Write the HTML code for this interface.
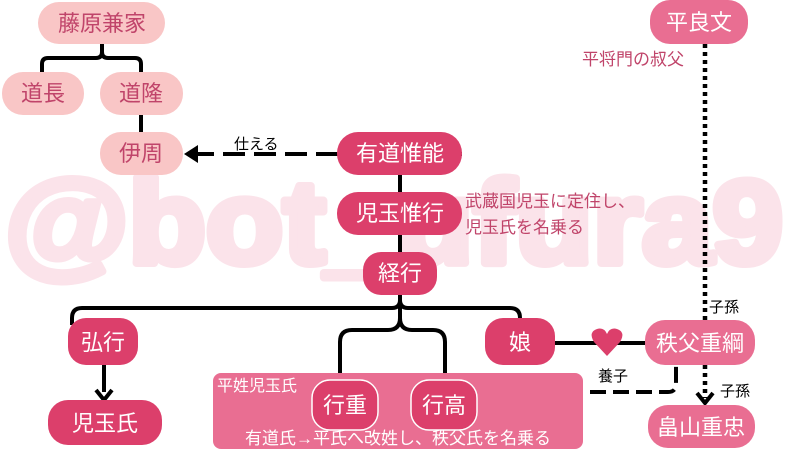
<!DOCTYPE html>
<html><head><meta charset="utf-8"><style>
html,body{margin:0;padding:0;background:#fff;width:800px;height:450px;overflow:hidden}
text{font-family:"Liberation Sans","Noto Sans CJK JP",sans-serif}
</style></head><body>
<svg width="800" height="450" viewBox="0 0 800 450" xmlns="http://www.w3.org/2000/svg">
<text x="5" y="263" font-size="118" font-weight="bold" fill="#fbe3ea" stroke="#fbe3ea" stroke-width="8" stroke-linejoin="round" textLength="778" lengthAdjust="spacingAndGlyphs" font-family="Liberation Sans, sans-serif">@bot_ufura9</text>
<g fill="none" stroke="#000" stroke-width="4">
<path d="M102 44 V52 Q102 58 96 58 H48 Q42 58 42 64 V72"/>
<path d="M102 52 Q102 58 108 58 H135 Q141 58 141 64 V72"/>
<path d="M141 115 V132"/>
<path d="M400 175 V192 M400 235 V252"/>
<path d="M400 295 V300 Q400 308 392 308 H82 Q72 308 72 318 V325"/>
<path d="M400 300 Q400 308 408 308 H510 Q520 308 520 318 V322"/>
<path d="M400 300 V318 Q400 330 388 330 H352 Q340 330 340 342 V382"/>
<path d="M400 318 Q400 330 412 330 H433 Q445 330 445 342 V382"/>
<path d="M104 365 V392"/>
<path d="M555 343 H645"/>
<path d="M462 154 H198" stroke-dasharray="22 9"/>
<path d="M590 392 H668 Q676 392 676 384 V366" stroke-dasharray="16 7"/>
<path d="M705 44 V320 M705 365 V398" stroke-dasharray="4 4" stroke-width="4.5"/>
</g>
<path d="M96 390 L104 400 L112 390" fill="none" stroke="#000" stroke-width="4"/>
<path d="M697 393 L705 403 L713 393" fill="none" stroke="#000" stroke-width="4"/>
<path d="M184 154 L198 145 V163 Z" fill="#000"/>
<path d="M607 356 L594 342 Q588 332 597 329 Q604 327 607 334 Q610 327 617 329 Q626 332 620 342 Z" fill="#dc3f6b"/>
<rect x="213" y="373" width="370" height="76" rx="8" fill="#e96e92"/>
<g fill="#f9c6c6"><rect x="38" y="2" width="127" height="42" rx="21"/><rect x="2" y="72" width="82" height="43" rx="21"/><rect x="100" y="72" width="83" height="43" rx="21"/><rect x="100" y="132" width="83" height="43" rx="21"/></g>
<g fill="#dc3f6b"><rect x="337" y="132" width="125" height="43" rx="21"/><rect x="337" y="192" width="125" height="43" rx="21"/><rect x="363" y="252" width="74" height="43" rx="18"/><rect x="68" y="318" width="70" height="47" rx="18"/><rect x="485" y="318" width="70" height="47" rx="18"/><rect x="48" y="400" width="114" height="45" rx="20"/></g>
<g fill="#dc3f6b" stroke="#fff" stroke-width="1.5"><rect x="312" y="380" width="66" height="50" rx="18"/><rect x="411" y="380" width="66" height="50" rx="18"/></g>
<g fill="#e96e92"><rect x="650" y="0" width="98" height="44" rx="20"/><rect x="645" y="320" width="110" height="45" rx="20"/><rect x="648" y="405" width="107" height="43" rx="20"/></g>
<g font-size="22" text-anchor="middle" fill="#c0446a"><text x="102" y="31">藤原兼家</text><text x="43" y="101">道長</text><text x="141" y="101">道隆</text><text x="141" y="161">伊周</text></g>
<g font-size="22" text-anchor="middle" fill="#fff"><text x="400" y="161">有道惟能</text><text x="400" y="221">児玉惟行</text><text x="400" y="281">経行</text><text x="103" y="350">弘行</text><text x="520" y="350">娘</text><text x="105" y="431">児玉氏</text><text x="345" y="413">行重</text><text x="444" y="413">行高</text><text x="699" y="30">平良文</text><text x="700" y="351">秩父重綱</text><text x="701" y="435">畠山重忠</text></g>
<g font-size="17" fill="#c0446a"><text x="465" y="207">武蔵国児玉に定住し、</text><text x="465" y="233">児玉氏を名乗る</text><text x="582" y="65">平将門の叔父</text></g>
<g font-size="16" fill="#fff"><text x="217" y="391">平姓児玉氏</text><text x="398" y="444" text-anchor="middle" font-size="17">有道氏→平氏へ改姓し、秩父氏を名乗る</text></g>
<g font-size="15" fill="#000"><text x="234" y="149">仕える</text><text x="709" y="312">子孫</text><text x="720" y="396">子孫</text><text x="598" y="381">養子</text></g>
</svg>
</body></html>
